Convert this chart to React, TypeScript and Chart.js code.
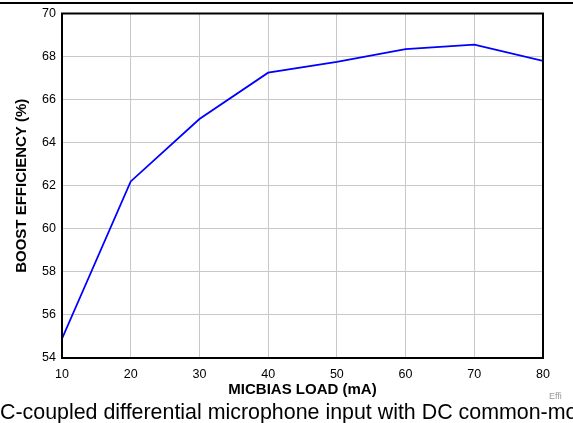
import React, { useEffect, useRef } from "react";
import { Chart, registerables } from "chart.js";

Chart.register(...registerables);

const loads = [10, 20, 30, 40, 50, 60, 70, 80];
const efficiency = [54.9, 62.2, 65.1, 67.25, 67.75, 68.35, 68.55, 67.8];
const xTitle = "MICBIAS LOAD (mA)";
const yTitle = "BOOST EFFICIENCY (%)";
const caption = "C-coupled differential microphone input with DC common-mo";
const tag = "Effi";

const FONT = "Arial, 'Liberation Sans', Helvetica, sans-serif";

const borderPlugin = {
  id: "plotBorder",
  afterDatasetsDraw(chart: any) {
    const { ctx, chartArea } = chart;
    ctx.save();
    ctx.strokeStyle = "#000";
    ctx.lineWidth = 2;
    ctx.strokeRect(chartArea.left, chartArea.top, chartArea.right - chartArea.left, chartArea.bottom - chartArea.top);
    ctx.restore();
  },
};

export default function App() {
  const ref = useRef<HTMLCanvasElement>(null);
  useEffect(() => {
    const chart = new Chart(ref.current!, {
      type: "line",
      data: {
        datasets: [
          {
            data: loads.map((x, i) => ({ x, y: efficiency[i] })),
            borderColor: "#0000ff",
            borderWidth: 1.8,
            pointRadius: 0,
            tension: 0,
            fill: false,
          },
        ],
      },
      options: {
        animation: false,
        responsive: false,
        maintainAspectRatio: false,
        plugins: { legend: { display: false }, tooltip: { enabled: false } },
        layout: { padding: { left: 0, top: 13, right: 30, bottom: 24 } },
        scales: {
          x: {
            type: "linear",
            min: 10,
            max: 80,
            afterFit: (s: any) => { s.height = 41; },
            ticks: { stepSize: 10, color: "#000", padding: 9, font: { family: FONT, size: 12.5 }, maxRotation: 0 },
            grid: { color: "#c8c8c8", lineWidth: 1, drawTicks: false },
            border: { display: false },
            title: { display: true, text: xTitle, color: "#000", font: { family: FONT, size: 15, weight: "bold" }, padding: { top: 0, bottom: 0 } },
          },
          y: {
            min: 54,
            max: 70,
            afterFit: (s: any) => { s.width = 62; },
            ticks: { stepSize: 2, color: "#000", padding: 6, font: { family: FONT, size: 12.5 } },
            grid: { color: "#c8c8c8", lineWidth: 1, drawTicks: false },
            border: { display: false },
            title: { display: true, text: yTitle, color: "#000", font: { family: FONT, size: 15, weight: "bold" }, padding: { top: 13, bottom: 0 } },
          },
        },
      },
      plugins: [borderPlugin],
    });
    return () => chart.destroy();
  }, []);

  return (
    <div style={{ position: "fixed", left: 0, top: 0, width: 573, height: 423, background: "#fff", overflow: "hidden" }}>
      <div style={{ position: "absolute", left: 0, top: 2, width: 573, height: 2, background: "#000" }} />
      <canvas ref={ref} width={573} height={423} style={{ position: "absolute", left: 0, top: 0 }} />
      <div style={{ position: "absolute", left: 549, top: 391, fontFamily: FONT, fontSize: 9, color: "#999" }}>{tag}</div>
      <div style={{ position: "absolute", left: 0, top: 402, fontFamily: FONT, fontSize: 21.4, color: "#000", whiteSpace: "nowrap", lineHeight: "21px" }}>{caption}</div>
    </div>
  );
}
